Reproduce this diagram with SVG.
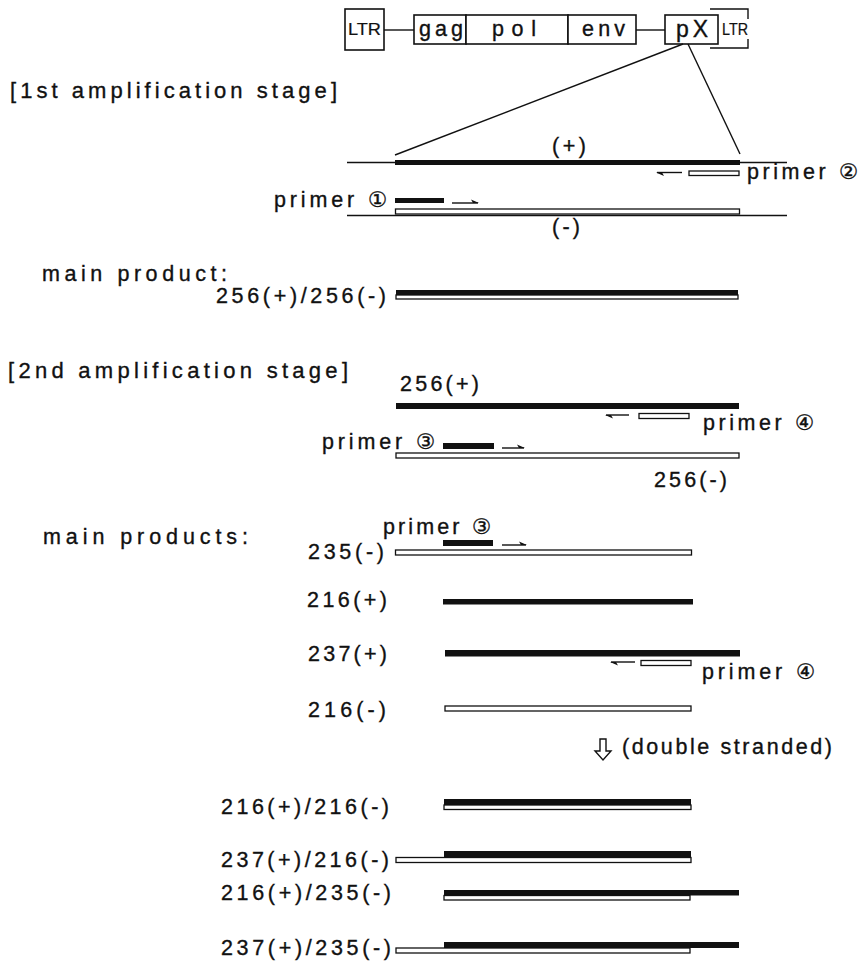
<svg xmlns="http://www.w3.org/2000/svg" width="860" height="964" viewBox="0 0 860 964">
<style>
text{font-family:"Liberation Sans","DejaVu Sans",Arial,sans-serif;font-size:21.5px;fill:#111;stroke:#111;stroke-width:0.35;}
.sm{font-size:16px;stroke-width:0.2;}
.box{fill:#fff;stroke:#111;stroke-width:1.6;}
.ln{stroke:#111;stroke-width:1.4;fill:none;}
.blk{fill:#111;}
.wht{fill:#fff;stroke:#111;stroke-width:1.3;}
.hd{fill:#111;}
</style>
<rect width="860" height="964" fill="#fff"/>

<g id="genome">
<line class="ln" x1="384" y1="30" x2="414" y2="30"/>
<line class="ln" x1="636" y1="30" x2="665" y2="30"/>
<path class="ln" d="M710,9 H748 V19 M748,39 V48 H710" />
<rect class="box" x="345" y="9" width="39" height="41"/>
<text class="sm" x="348" y="35" textLength="33" lengthAdjust="spacingAndGlyphs">LTR</text>
<rect class="box" x="414" y="15" width="52" height="29"/>
<text x="419" y="36" textLength="44" lengthAdjust="spacing">gag</text>
<rect class="box" x="466" y="15" width="102" height="29"/>
<text x="492" y="36" textLength="44" lengthAdjust="spacing">pol</text>
<rect class="box" x="568" y="15" width="68" height="29"/>
<text x="582" y="36" textLength="43" lengthAdjust="spacing">env</text>
<rect class="box" x="665" y="15" width="53" height="29"/>
<text x="676" y="37" style="font-size:23px" textLength="32" lengthAdjust="spacing">pX</text>
<text class="sm" x="722" y="35" textLength="26" lengthAdjust="spacingAndGlyphs">LTR</text>
</g>

<g id="connectors">
<line class="ln" x1="683" y1="44" x2="395" y2="155"/>
<line class="ln" x1="688" y1="44" x2="740" y2="154"/>
</g>

<g id="stage1-title"><text x="10" y="98" style="font-size:22px" textLength="327" lengthAdjust="spacing">[1st amplification stage]</text></g>

<g id="stage1">
<text x="552" y="153" textLength="34" lengthAdjust="spacing">(+)</text>
<line class="ln" x1="347" y1="162.5" x2="787" y2="162.5"/>
<rect class="blk" x="395" y="160" width="345" height="5"/>
<rect class="wht" x="689" y="171" width="50" height="4.5"/>
<line class="ln" x1="657" y1="172.5" x2="682" y2="172.5"/>
<path class="hd" d="M656,172.5 L664,176 L662,172.5 Z"/>
<text x="747" y="179" textLength="111" lengthAdjust="spacing">primer ②</text>
<text x="274" y="207" textLength="113" lengthAdjust="spacing">primer ①</text>
<rect class="blk" x="395" y="198" width="49" height="5"/>
<line class="ln" x1="452" y1="203" x2="478" y2="203"/>
<path class="hd" d="M479,203 L471,199.5 L473,203 Z"/>
<rect class="wht" x="395.5" y="209" width="344" height="5"/>
<line class="ln" x1="347" y1="215.5" x2="787" y2="215.5"/>
<text x="552" y="234" textLength="28" lengthAdjust="spacing">(-)</text>
</g>

<g id="main-product">
<text x="42" y="281" textLength="185" lengthAdjust="spacing">main product:</text>
<text x="216" y="303" textLength="170" lengthAdjust="spacing">256(+)/256(-)</text>
<rect class="blk" x="396" y="290" width="342" height="5"/>
<rect class="wht" x="396" y="295" width="342" height="4"/>
</g>

<g id="stage2-title"><text x="8" y="378" style="font-size:22px" textLength="340" lengthAdjust="spacing">[2nd amplification stage]</text></g>

<g id="stage2">
<text x="400" y="391" textLength="79" lengthAdjust="spacing">256(+)</text>
<rect class="blk" x="396" y="403" width="343" height="6"/>
<rect class="wht" x="639" y="413.5" width="50" height="5"/>
<line class="ln" x1="606" y1="415" x2="629" y2="415"/>
<path class="hd" d="M605,415 L613,418.5 L611,415 Z"/>
<text x="703" y="430" textLength="111" lengthAdjust="spacing">primer ④</text>
<text x="322" y="449" textLength="113" lengthAdjust="spacing">primer ③</text>
<rect class="blk" x="443" y="443" width="51" height="6"/>
<line class="ln" x1="502" y1="448" x2="524" y2="448"/>
<path class="hd" d="M525,448 L517,444.5 L519,448 Z"/>
<rect class="wht" x="396" y="453" width="343" height="5"/>
<text x="654" y="487" textLength="73" lengthAdjust="spacing">256(-)</text>
</g>

<g id="main-products-title"><text x="43" y="544" textLength="205" lengthAdjust="spacing">main products:</text></g>

<g id="p235m">
<text x="383" y="534" textLength="108" lengthAdjust="spacing">primer ③</text>
<rect class="blk" x="443" y="540" width="50" height="6"/>
<line class="ln" x1="502" y1="545" x2="526" y2="545"/>
<path class="hd" d="M527,545 L519,541.5 L521,545 Z"/>
<text x="308" y="559" textLength="76" lengthAdjust="spacing">235(-)</text>
<rect class="wht" x="395.5" y="550" width="296" height="5"/>
</g>

<g id="p216p">
<text x="307" y="607" textLength="80" lengthAdjust="spacing">216(+)</text>
<rect class="blk" x="443" y="599" width="250" height="5.5"/>
</g>

<g id="p237p">
<text x="308" y="661" textLength="79" lengthAdjust="spacing">237(+)</text>
<rect class="blk" x="445" y="650" width="295" height="6.5"/>
<rect class="wht" x="641" y="660.5" width="50" height="5"/>
<line class="ln" x1="611" y1="662" x2="635" y2="662"/>
<path class="hd" d="M610,662 L618,665.5 L616,662 Z"/>
<text x="702" y="679" textLength="113" lengthAdjust="spacing">primer ④</text>
</g>

<g id="p216m">
<text x="308" y="717" textLength="78" lengthAdjust="spacing">216(-)</text>
<rect class="wht" x="445" y="706" width="246" height="5"/>
</g>

<g id="double-stranded">
<path class="ln" d="M600,739 H606 V751 H611 L603,760 L595,751 H600 Z" stroke-width="1.3"/>
<text x="622" y="754" textLength="210" lengthAdjust="spacing">(double stranded)</text>
</g>

<g id="ds1">
<text x="221" y="814" textLength="168" lengthAdjust="spacing">216(+)/216(-)</text>
<rect class="blk" x="444" y="799" width="247" height="6"/>
<rect class="wht" x="444" y="805" width="247" height="4.5"/>
</g>

<g id="ds2">
<text x="221" y="867" textLength="168" lengthAdjust="spacing">237(+)/216(-)</text>
<rect class="blk" x="444" y="851" width="247" height="6.5"/>
<rect class="wht" x="396" y="857.5" width="295" height="5"/>
</g>

<g id="ds3">
<text x="221" y="900" textLength="170" lengthAdjust="spacing">216(+)/235(-)</text>
<rect class="blk" x="444" y="890" width="295" height="5.5"/>
<rect class="wht" x="444" y="895.5" width="246" height="4.5"/>
</g>

<g id="ds4">
<text x="221" y="955" textLength="170" lengthAdjust="spacing">237(+)/235(-)</text>
<rect class="blk" x="444" y="942" width="295" height="6"/>
<rect class="wht" x="396" y="948" width="294" height="5"/>
</g>
</svg>
